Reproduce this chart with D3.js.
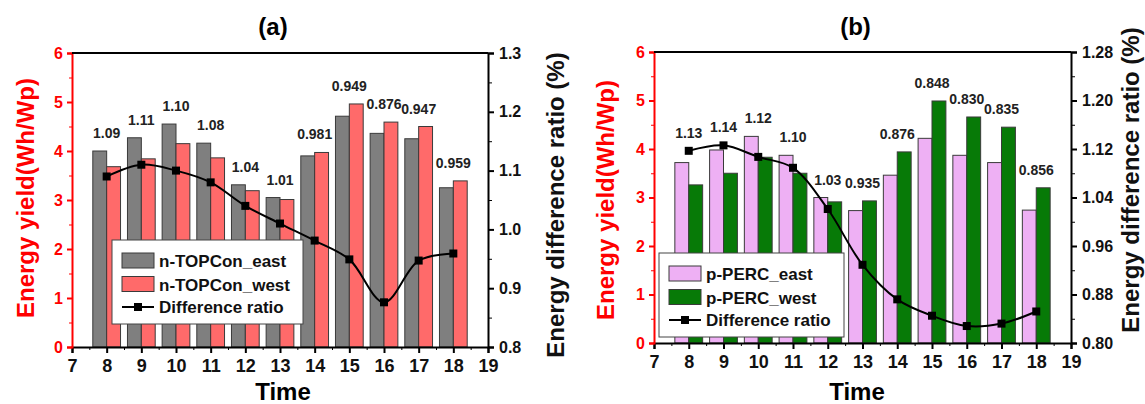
<!DOCTYPE html>
<html>
<head>
	<meta charset="UTF-8">
	<title>Energy yield east / west</title>
	<style>
		body { margin: 0; background: #fff; }
		svg { font-family: "Liberation Sans", Arial, sans-serif; }
		.tick text { font-weight: bold; }
	</style>
</head>
<body>
<script src="https://cdn.jsdelivr.net/npm/d3@7"></script>
<script>
'use strict';

// hours of the day
var times = [8, 9, 10, 11, 12, 13, 14, 15, 16, 17, 18];

// panel (a) n-TOPCon
var topconEast = [4.00, 4.27, 4.55, 4.16, 3.31, 3.05, 3.90, 4.71, 4.36, 4.25, 3.25];
var topconWest = [3.68, 3.84, 4.15, 3.86, 3.19, 3.01, 3.97, 4.96, 4.59, 4.50, 3.39];
var topconRatio = [1.09, 1.11, 1.10, 1.08, 1.04, 1.01, 0.981, 0.949, 0.876, 0.947, 0.959];
var topconLabels = ["1.09", "1.11", "1.10", "1.08", "1.04", "1.01", "0.981", "0.949", "0.876", "0.947", "0.959"];

// panel (b) p-PERC
var percEast = [3.72, 3.98, 4.26, 3.87, 3.00, 2.73, 3.46, 4.22, 3.87, 3.72, 2.74];
var percWest = [3.26, 3.50, 3.83, 3.50, 2.91, 2.93, 3.94, 4.99, 4.66, 4.45, 3.20];
var percRatio = [1.117, 1.126, 1.107, 1.089, 1.021, 0.929, 0.872, 0.845, 0.828, 0.832, 0.852];
var percLabels = ["1.13", "1.14", "1.12", "1.10", "1.03", "0.935", "0.876", "0.848", "0.830", "0.835", "0.856"];

var xTicks = d3.range(7, 20);
var leftTicks = [0, 1, 2, 3, 4, 5, 6];
var rightTicksA = [0.8, 0.9, 1.0, 1.1, 1.2, 1.3];
var rightTicksB = [0.80, 0.88, 0.96, 1.04, 1.12, 1.20, 1.28];

var svg = d3.select("body").append("svg")
	.attr("width", 1145)
	.attr("height", 404);

function drawPanel(p){
	var x = d3.scaleLinear().domain([7, 19]).range([p.left, p.right]);
	var y = d3.scaleLinear().domain([0, 6]).range([p.bottom, p.top]);
	var y2 = d3.scaleLinear().domain(p.rightDomain).range([p.bottom, p.top]);
	var bw = x(7.4) - x(7);

	var g = svg.append("g");

	// bars
	g.selectAll(".east").data(times).enter().append("rect")
		.attr("x", function(d){ return x(d) - bw; })
		.attr("y", function(d, i){ return y(p.east[i]); })
		.attr("width", bw)
		.attr("height", function(d, i){ return y(0) - y(p.east[i]); })
		.attr("fill", p.eastColor)
		.attr("stroke", "#3a3a3a")
		.attr("stroke-width", 1);

	g.selectAll(".west").data(times).enter().append("rect")
		.attr("x", function(d){ return x(d); })
		.attr("y", function(d, i){ return y(p.west[i]); })
		.attr("width", bw)
		.attr("height", function(d, i){ return y(0) - y(p.west[i]); })
		.attr("fill", p.westColor)
		.attr("stroke", "#3a3a3a")
		.attr("stroke-width", 1);

	// ratio labels above the bars (and above the line where it runs higher)
	g.selectAll(".lab").data(times).enter().append("text")
		.attr("x", function(d){ return x(d); })
		.attr("y", function(d, i){
			return Math.min(y(Math.max(p.east[i], p.west[i])), y2(p.ratio[i])) - 13;
		})
		.attr("text-anchor", "middle")
		.attr("font-size", 14)
		.attr("font-weight", "bold")
		.attr("fill", "#222")
		.text(function(d, i){ return p.labels[i]; });

	// difference ratio line
	var line = d3.line()
		.x(function(d){ return x(d); })
		.y(function(d, i){ return y2(p.ratio[i]); })
		.curve(d3.curveCatmullRom.alpha(0.5));

	g.append("path")
		.datum(times)
		.attr("d", line)
		.attr("fill", "none")
		.attr("stroke", "#000")
		.attr("stroke-width", 2);

	g.selectAll(".pt").data(times).enter().append("rect")
		.attr("x", function(d){ return x(d) - 4; })
		.attr("y", function(d, i){ return y2(p.ratio[i]) - 4; })
		.attr("width", 8)
		.attr("height", 8)
		.attr("fill", "#000");

	// axes
	var bottom = g.append("g")
		.attr("transform", "translate(0," + p.bottom + ")")
		.call(d3.axisBottom(x).tickValues(xTicks).tickFormat(d3.format("d")).tickSize(6).tickPadding(6));
	g.append("g")
		.attr("transform", "translate(0," + p.bottom + ")")
		.call(d3.axisBottom(x).tickValues(d3.range(7.5, 19, 1)).tickFormat("").tickSize(3))
		.select(".domain").remove();
	bottom.selectAll("text").attr("font-size", 18).attr("fill", "#111");
	bottom.selectAll("line, path").attr("stroke", "#000").attr("stroke-width", 2);

	var left = g.append("g")
		.attr("transform", "translate(" + p.left + ",0)")
		.call(d3.axisLeft(y).tickValues(leftTicks).tickFormat(d3.format("d")).tickSize(5).tickPadding(4));
	g.append("g")
		.attr("transform", "translate(" + p.left + ",0)")
		.call(d3.axisLeft(y).tickValues(d3.range(0.5, 6, 1)).tickFormat("").tickSize(3))
		.attr("color", "#f00")
		.select(".domain").remove();
	left.attr("color", "#f00");
	left.selectAll("text").attr("font-size", 16).attr("fill", "#f00");
	left.selectAll("line, path").attr("stroke-width", 2);

	var right = g.append("g")
		.attr("transform", "translate(" + p.right + ",0)")
		.call(d3.axisRight(y2).tickValues(p.rightTicks).tickFormat(d3.format(p.rightFormat)).tickSize(6).tickPadding(5));
	g.append("g")
		.attr("transform", "translate(" + p.right + ",0)")
		.call(d3.axisRight(y2).tickValues(p.rightMinor).tickFormat("").tickSize(4))
		.select(".domain").remove();
	right.selectAll("text").attr("font-size", 16).attr("fill", "#111");
	right.selectAll("line, path").attr("stroke", "#000").attr("stroke-width", 2);

	// top frame
	g.append("line")
		.attr("x1", p.left).attr("x2", p.right)
		.attr("y1", p.top).attr("y2", p.top)
		.attr("stroke", "#000").attr("stroke-width", 2);

	// titles
	g.append("text")
		.attr("x", (p.left + p.right) / 2 - 7)
		.attr("y", 35)
		.attr("text-anchor", "middle")
		.attr("font-size", 24)
		.attr("font-weight", "bold")
		.text(p.title);

	g.append("text")
		.attr("x", p.timeX)
		.attr("y", 400)
		.attr("text-anchor", "middle")
		.attr("font-size", 24)
		.attr("font-weight", "bold")
		.text("Time");

	g.append("text")
		.attr("transform", "translate(" + p.leftTitle[0] + "," + p.leftTitle[1] + ") rotate(-90)")
		.attr("dy", "0.36em")
		.attr("text-anchor", "middle")
		.attr("font-size", 24)
		.attr("font-weight", "bold")
		.attr("fill", "#f00")
		.text("Energy yield(Wh/Wp)");

	g.append("text")
		.attr("transform", "translate(" + p.rightTitle[0] + "," + p.rightTitle[1] + ") rotate(-90)")
		.attr("dy", "0.36em")
		.attr("text-anchor", "middle")
		.attr("font-size", 24)
		.attr("font-weight", "bold")
		.attr("fill", "#111")
		.text("Energy difference ratio (%)");

	// legend
	var lg = g.append("g").attr("transform", "translate(" + p.legend[0] + "," + p.legend[1] + ")");
	lg.append("rect")
		.attr("width", p.legend[2]).attr("height", 84)
		.attr("fill", "#fff").attr("stroke", "#444").attr("stroke-width", 1);
	var names = [p.eastName, p.westName];
	var cols = [p.eastColor, p.westColor];
	names.forEach(function(n, i){
		lg.append("rect")
			.attr("x", 10).attr("y", 13 + i * 23.5)
			.attr("width", 32).attr("height", 15)
			.attr("fill", cols[i]).attr("stroke", "#3a3a3a");
		lg.append("text")
			.attr("x", 47).attr("y", 27 + i * 23.5)
			.attr("font-size", 17).attr("font-weight", "bold").attr("fill", "#111")
			.text(n);
	});
	lg.append("line")
		.attr("x1", 10).attr("x2", 42).attr("y1", 67).attr("y2", 67)
		.attr("stroke", "#000").attr("stroke-width", 2);
	lg.append("rect")
		.attr("x", 22).attr("y", 63).attr("width", 8).attr("height", 8).attr("fill", "#000");
	lg.append("text")
		.attr("x", 47).attr("y", 73)
		.attr("font-size", 17).attr("font-weight", "bold").attr("fill", "#111")
		.text("Difference ratio");
}

drawPanel({
	left: 72, right: 488, top: 53, bottom: 347,
	east: topconEast, west: topconWest, ratio: topconRatio, labels: topconLabels,
	eastColor: "#7f7f7f", westColor: "#ff6a6a",
	eastName: "n-TOPCon_east", westName: "n-TOPCon_west",
	rightDomain: [0.8, 1.3], rightTicks: rightTicksA, rightFormat: ".1f",
	rightMinor: [0.85, 0.95, 1.05, 1.15, 1.25],
	title: "(a)", timeX: 283,
	leftTitle: [25, 198], rightTitle: [555, 205],
	legend: [112, 240, 191]
});

drawPanel({
	left: 654, right: 1071, top: 52, bottom: 343,
	east: percEast, west: percWest, ratio: percRatio, labels: percLabels,
	eastColor: "#eeb0f4", westColor: "#077a07",
	eastName: "p-PERC_east", westName: "p-PERC_west",
	rightDomain: [0.80, 1.28], rightTicks: rightTicksB, rightFormat: ".2f",
	rightMinor: [0.84, 0.92, 1.00, 1.08, 1.16, 1.24],
	title: "(b)", timeX: 857,
	leftTitle: [605, 200], rightTitle: [1130, 180],
	legend: [659, 253, 185]
});
</script>
</body>
</html>
